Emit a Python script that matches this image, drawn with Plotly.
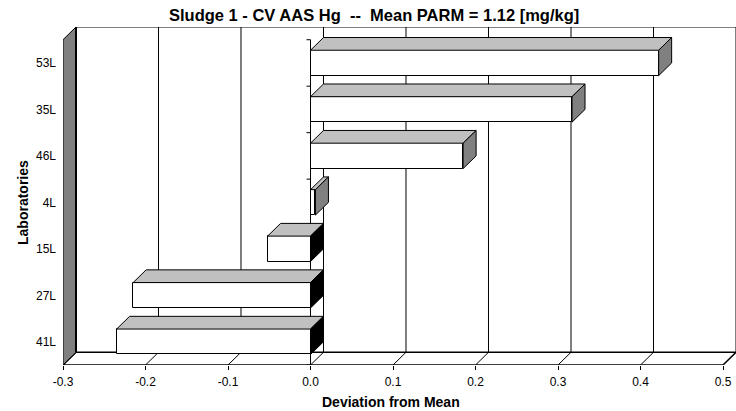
import plotly.graph_objects as go

# ---------------- data ----------------
labs = ["53L", "35L", "46L", "4L", "15L", "27L", "41L"]          # top to bottom
devs = [0.422, 0.317, 0.185, 0.006, -0.052, -0.215, -0.235]
xticks = [-0.3, -0.2, -0.1, 0.0, 0.1, 0.2, 0.3, 0.4, 0.5]
xtick_text = ["-0.3", "-0.2", "-0.1", "0.0", "0.1", "0.2", "0.3", "0.4", "0.5"]
title = "Sludge 1 - CV AAS Hg  --  Mean PARM = 1.12 [mg/kg]"

# ---------------- geometry ----------------
W, H = 736, 411
ML, MB, MT = 63, 46, 27
XPX = 825.9          # px per x unit
BAND = 46.4          # px per category
DX_PX, DY_PX = 13.0, 12.7
dx = DX_PX / XPX
dy = DY_PX / BAND
n = len(labs)
ypos = [n - 1 - i for i in range(n)]
BW = 0.547
xmin, xmax = xticks[0], xticks[-1]
ylo, yhi = -0.5, n - 0.5
FONT = "Arial, Liberation Sans, sans-serif"

fig = go.Figure()

# front faces
fig.add_trace(go.Bar(
    x=devs, y=ypos, orientation="h", width=BW, base=0,
    marker=dict(color="white", line=dict(color="black", width=1)),
    hoverinfo="skip", showlegend=False))

# top faces
tx, ty = [], []
for v, y in zip(devs, ypos):
    a, b = min(0, v), max(0, v)
    yt = y + BW / 2
    tx += [a, b, b + dx, a + dx, a, None]
    ty += [yt, yt, yt + dy, yt + dy, yt, None]
fig.add_trace(go.Scatter(x=tx, y=ty, mode="lines", fill="toself",
                         fillcolor="#c0c0c0", line=dict(color="black", width=1),
                         hoverinfo="skip", showlegend=False))

# side faces
for sign, col in ((1, "#808080"), (-1, "black")):
    sx, sy = [], []
    for v, y in zip(devs, ypos):
        if (v > 0) != (sign > 0):
            continue
        e = max(0, v)
        y0, y1 = y - BW / 2, y + BW / 2
        sx += [e, e + dx, e + dx, e, e, None]
        sy += [y0, y0 + dy, y1 + dy, y1, y0, None]
    fig.add_trace(go.Scatter(x=sx, y=sy, mode="lines", fill="toself",
                             fillcolor=col, line=dict(color="black", width=1),
                             hoverinfo="skip", showlegend=False))

shapes = []
# back wall gridlines
for t in xticks:
    shapes.append(dict(type="line", x0=t + dx, x1=t + dx, y0=ylo + dy, y1=yhi + dy,
                       line=dict(color="black", width=2 if t == xmin else 1), layer="below"))
# back wall top edge
shapes.append(dict(type="line", x0=xmin + dx, x1=xmax + dx + 0.02, y0=yhi + dy, y1=yhi + dy,
                   line=dict(color="black", width=1), layer="below"))
# floor
shapes.append(dict(type="path",
                   path=f"M {xmin},{ylo} L {xmax},{ylo} L {xmax+dx},{ylo+dy} L {xmin+dx},{ylo+dy} Z",
                   fillcolor="white", line=dict(color="black", width=1.5), layer="below"))
# floor tick diagonals
for t in xticks:
    shapes.append(dict(type="line", x0=t, x1=t + dx, y0=ylo, y1=ylo + dy,
                       line=dict(color="black", width=1), layer="below"))
# left wall
shapes.append(dict(type="path",
                   path=f"M {xmin},{ylo} L {xmin},{yhi} L {xmin+dx},{yhi+dy} L {xmin+dx},{ylo+dy} Z",
                   fillcolor="#808080", line=dict(color="black", width=1), layer="below"))
shapes.append(dict(type="line", x0=xmin + dx, x1=xmin + dx, y0=ylo + dy, y1=yhi + dy,
                   line=dict(color="black", width=2), layer="below"))
# category axis at zero
shapes.append(dict(type="line", x0=0, x1=0, y0=ylo, y1=yhi,
                   line=dict(color="black", width=1), layer="below"))
tk = 4 / XPX
for k in range(n + 1):
    yb = ylo + k
    shapes.append(dict(type="line", x0=-tk, x1=0, y0=yb, y1=yb,
                       line=dict(color="black", width=1), layer="below"))
    shapes.append(dict(type="line", x0=xmin - 5 / XPX, x1=xmin, y0=yb, y1=yb,
                       line=dict(color="black", width=1), layer="below"))

pw = W - ML
ph = H - MT - MB


def px2paper(px, py):
    return (px - ML) / pw, (H - MB - py) / ph


annotations = []
for txt, cx, cy, size, ang in [
    (f"<b>{title}</b>", 374, 15, 16.5, 0),
    ("<b>Deviation from Mean</b>", 391, 402, 14, 0),
    ("<b>Laboratories</b>", 23, 203, 14, -90),
]:
    ax, ay = px2paper(cx, cy)
    annotations.append(dict(text=txt, x=ax, y=ay, xref="paper", yref="paper",
                            xanchor="center", yanchor="middle", showarrow=False,
                            textangle=ang, font=dict(family=FONT, size=size, color="black")))

fig.update_layout(
    width=W, height=H,
    margin=dict(l=ML, r=0, t=MT, b=MB, pad=0),
    paper_bgcolor="white", plot_bgcolor="white",
    shapes=shapes, annotations=annotations,
    showlegend=False, bargap=0,
    font=dict(family=FONT, color="black"),
    xaxis=dict(range=[xmin, xmax + dx], tickvals=xticks, ticktext=xtick_text,
               ticks="outside", ticklen=4, tickcolor="black", tickwidth=1,
               ticklabelstandoff=2,
               showgrid=False, zeroline=False, showline=False,
               tickfont=dict(family=FONT, size=12, color="black"), fixedrange=True),
    yaxis=dict(range=[ylo, yhi + dy], tickvals=ypos, ticktext=labs,
               ticks="", showgrid=False, zeroline=False, showline=False,
               ticklabelstandoff=6,
               tickfont=dict(family=FONT, size=12, color="black"), fixedrange=True),
)

fig.write_html("out.html", config={"displayModeBar": False},
               post_script="document.body.style.margin='0';document.body.style.overflow='hidden';")
